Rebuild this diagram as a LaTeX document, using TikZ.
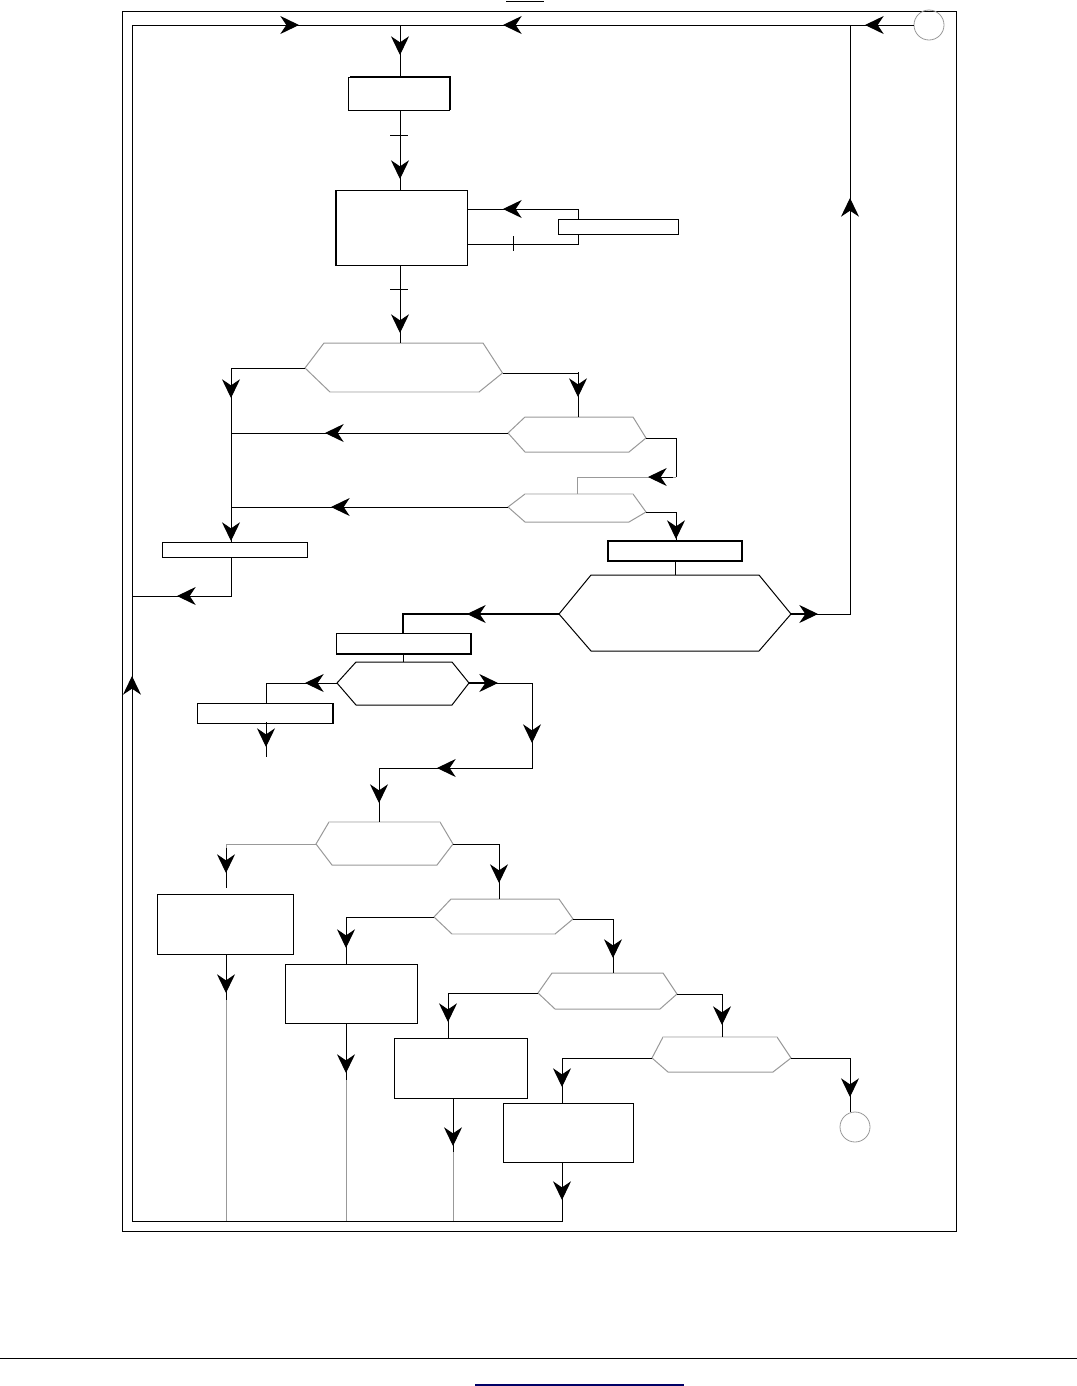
\documentclass[tikz,border=0pt]{standalone}
\usetikzlibrary{arrows.meta}
\definecolor{hexg}{HTML}{999999}
\definecolor{lightg}{HTML}{DDDDDD}
\definecolor{navyl}{HTML}{000066}
\newcommand\tipD[2]{\draw[tip] (#1,#2-25) -- (#1,#2);}
\newcommand\tipU[2]{\draw[tip] (#1,#2+25) -- (#1,#2);}
\newcommand\tipL[2]{\draw[tip] (#1+25,#2) -- (#1,#2);}
\newcommand\tipR[2]{\draw[tip] (#1-25,#2) -- (#1,#2);}
\tikzset{
  ln/.style={line width=0.75pt},
  gln/.style={line width=0.75pt, draw=hexg},
  tip/.style={line width=0.75pt, -{Stealth[length=14pt,width=13.5pt,inset=4.5pt]}},
  box/.style={draw, line width=0.75pt, fill=white, inner sep=0pt, outer sep=0pt, anchor=north west},
  hexgray/.style={draw=hexg, line width=0.75pt, fill=white},
  hexblack/.style={draw=black, line width=0.75pt, fill=white},
  ring/.style={circle, draw=hexg, line width=0.6pt, inner sep=0pt, minimum size=22.5pt}
}
\begin{document}
\begin{tikzpicture}[x=0.75pt,y=-0.75pt]
\useasboundingbox (0,0) rectangle (1077,1386);
% page decorations
\draw[ln] (506,1) -- (544,1);
\draw[ln] (0,1358) -- (1077,1358);
\draw[navyl, line width=1pt] (475,1385) -- (684,1385);
% frame
\draw[ln] (122,11) rectangle (956,1231);

% circles
\node[ring] (c1) at (929,25) {};
\node[ring] (c2) at (855,1127) {};

% boxes
\node[box, minimum width=75.75pt, minimum height=24.75pt] (b1) at (348,77) {};
\node[box, minimum width=99pt, minimum height=56.25pt] (b2) at (335,190) {};
\node[box, minimum width=108.75pt, minimum height=11.25pt] (bl) at (162,542) {};
\node[box, minimum width=100.5pt, minimum height=15pt, line width=1.5pt] (br) at (608,541) {};
\node[box, minimum width=101.25pt, minimum height=15pt] (bm) at (336,633) {};
\node[box, minimum width=102pt, minimum height=15pt] (bn) at (197,703) {};
\node[box, minimum width=102pt, minimum height=45pt] (ba) at (157,894) {};
\node[box, minimum width=99pt, minimum height=44.25pt] (bb) at (285,964) {};
\node[box, minimum width=99.75pt, minimum height=45pt] (bc) at (394,1038) {};
\node[box, minimum width=97.5pt, minimum height=44.25pt] (bd) at (503,1103) {};
% extra edges
\draw[ln] (350,76) -- (450.5,76) -- (450.5,110);
\draw[line width=1.5pt] (335.5,190) -- (335.5,265);
\draw[line width=1.5pt] (471,633) -- (471,653.5) -- (336,653.5);
\draw[line width=1.5pt] (333,703) -- (333,723);

% hexagons
\draw[hexgray] (305,368) coordinate (h1l) -- (324,343) -- (483,343) -- (502.5,373) coordinate (h1r) -- (479,392) -- (330,392) -- cycle;
\draw[lightg, line width=0.75pt] (479,392) -- (330,392);
\coordinate (h1t) at (400,343);
\draw[hexgray] (508,433) coordinate (h2l) -- (525,417) -- (633,417) -- (646,438) coordinate (h2r) -- (629,452) -- (525,452) -- cycle;
\coordinate (h2t) at (578,417);
\draw[hexgray] (508,507) coordinate (h3l) -- (525,494) -- (633,494) -- (646,512) coordinate (h3r) -- (629,522) -- (525,522) -- cycle;
\draw[lightg, line width=0.75pt] (525,494) -- (633,494);
\coordinate (h3t) at (577,494);
\draw[hexblack] (559,614) coordinate (hbl) -- (591,575) -- (759,575) -- (791,614) coordinate (hbr) -- (759,651) -- (591,651) -- cycle;
\coordinate (hbt) at (675,575);
\draw[hexblack] (337,683) coordinate (hml) -- (356,662) -- (452,662) -- (469,683) coordinate (hmr) -- (452,705) -- (356,705) -- cycle;
\coordinate (hmt) at (403,662);
\draw[hexgray] (316,844) coordinate (h4l) -- (329,822) -- (440,822) -- (453,844) coordinate (h4r) -- (437,865) -- (332,865) -- cycle;
\draw[lightg, line width=0.75pt] (329,822) -- (440,822);
\coordinate (h4t) at (379,822);
\draw[hexgray] (434,917) coordinate (h5l) -- (451,899) -- (559,899) -- (573,919) coordinate (h5r) -- (555,934) -- (452,934) -- cycle;
\draw[lightg, line width=0.75pt] (555,934) -- (452,934);
\coordinate (h5t) at (499,899);
\draw[hexgray] (538,993) coordinate (h6l) -- (552,973) -- (663,973) -- (677,994) coordinate (h6r) -- (660,1009) -- (555,1009) -- cycle;
\coordinate (h6t) at (613,973);
\draw[hexgray] (652,1058) coordinate (h7l) -- (663,1037) -- (777,1037) -- (791,1058) coordinate (h7r) -- (773,1072) -- (668,1072) -- cycle;
\draw[lightg, line width=0.75pt] (663,1037) -- (777,1037);
\coordinate (h7t) at (722,1037);

% small box right of b2 (drawn over loop line)
\draw[ln] (467,209) -- (578,209) -- (578,244) -- (467,244);
\node[box, minimum width=90pt, minimum height=11.25pt] (bs) at (558,219) {};
\tipL{503}{209}
\draw[ln] (513,236) -- (513,251);

% main loop
\draw[ln] (c1.west) -- (132,25) -- (132,1221) -| (562,1162 |- bd.south);
\tipR{299}{25}
\tipL{503}{25}
\tipL{865}{25}
\tipU{132}{676}
\draw[ln] (400,25) -- (400,25 |- b1.north);
\tipD{400}{55}
% b1 -> b2
\draw[ln] (400,0 |- b1.south) -- (400,0 |- b2.north);
\draw[ln] (390,135) -- (408,135);
\tipD{400}{179}
% b2 -> h1
\draw[ln] (400,0 |- b2.south) -- (h1t);
\draw[ln] (390,289) -- (408,289);
\tipD{400}{333}
% h1 branches
\draw[ln] (h1l) -| (231,0 |- bl.north);
\tipD{231}{398}
\tipD{231}{541}
\draw[ln] (h1r) -| (h2t);
\tipD{578}{397}
% h2
\draw[ln] (h2l) -- (231,433);
\tipL{325}{433}
\draw[ln] (h2r) -| (676,477);
\draw[gln] (676,477) -| (h3t);
\tipL{648}{477}
% h3
\draw[ln] (h3l) -- (231,507);
\tipL{331}{507}
\draw[ln] (h3r) -| (676,0 |- br.north);
\tipD{676}{539}
% bl -> loop
\draw[ln] (231,0 |- bl.south) |- (132,596);
\tipL{177}{596}
% br -> big hex
\draw[ln] (675,0 |- br.south) -- (hbt);
% big hex right
\draw[ln] (hbr) -| (850,25);
\draw[line width=1.5pt] (791,614) -- (806,614);
\tipR{818}{614}
\tipU{850}{198}
% big hex left
\draw[line width=1.5pt] (hbl) -| (403,0 |- bm.north);
\tipL{467}{614}
% bm -> hm
\draw[ln] (403,0 |- bm.south) -- (hmt);
% hm left
\draw[ln] (hml) -| (266,0 |- bn.north);
\tipL{305}{683}
\draw[ln] (266,0 |- bn.south) -- (266,757);
\tipD{266}{747}
% hm right
\draw[line width=1.5pt] (hmr) -- (485,683);
\draw[ln] (hmr) -| (532,768) -| (h4t);
\tipR{498}{683}
\tipD{532}{743}
\tipL{437}{768}
\tipD{379}{803}
% h4
\draw[gln] (h4l) -| (226,866);
\draw[ln] (226,860) -- (226,888);
\tipD{226}{873}
\draw[ln] (226,0 |- ba.south) -- (226,1000);
\draw[gln] (226,1000) -- (226,1221);
\tipD{226}{993}
\draw[ln] (h4r) -| (h5t);
\tipD{499}{883}
% h5
\draw[ln] (h5l) -| (346,0 |- bb.north);
\tipD{346}{948}
\draw[ln] (346,0 |- bb.south) -- (346,1080);
\draw[gln] (346,1080) -- (346,1221);
\tipD{346}{1073}
\draw[ln] (h5r) -| (h6t);
\tipD{613}{958}
% h6
\draw[ln] (h6l) -| (448,0 |- bc.north);
\tipD{448}{1022}
\draw[ln] (453,0 |- bc.south) -- (453,1152);
\draw[gln] (453,1152) -- (453,1221);
\tipD{453}{1146}
\draw[ln] (h6r) -| (h7t);
\tipD{722}{1025}
% h7
\draw[ln] (h7l) -| (562,0 |- bd.north);
\tipD{562}{1087}
\tipD{562}{1200}
\draw[ln] (h7r) -| (850,0 |- c2.north);
\tipD{850}{1097}
\end{tikzpicture}
\end{document}
